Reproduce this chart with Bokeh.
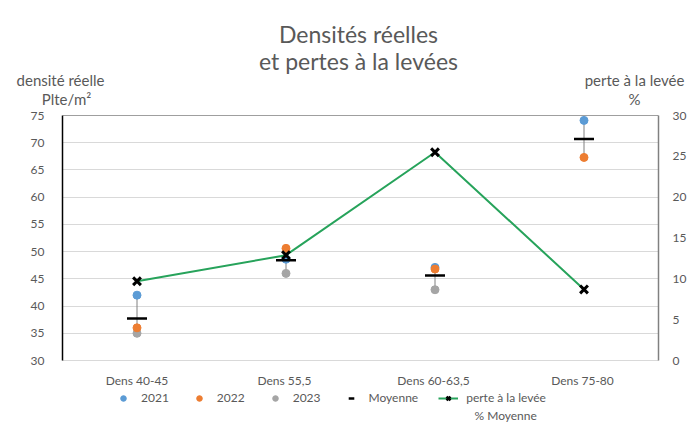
from bokeh.plotting import figure
from bokeh.layouts import column
from bokeh.models import (Range1d, LinearAxis, FactorRange, Legend, LegendItem,
                          Span, SingleIntervalTicker)
from bokeh.core.properties import value
from bokeh.embed import file_html
from bokeh.resources import INLINE

categories = ["Dens 40-45", "Dens  55,5", "Dens  60-63,5", "Dens  75-80"]
y2021 = [42.0, 48.6, 47.1, 74.1]
y2022 = [36.0, 50.6, 46.8, 67.3]
y2023 = [35.0, 46.0, 43.0, None]
moyenne = [37.7, 48.4, 45.6, 70.7]
perte = [9.7, 12.9, 25.5, 8.7]

title_lines = ["Densités réelles", "et pertes à la levées"]
left_label = ["densité réelle", "Plte/m²"]
right_label = ["perte à la levée", "%"]
legend_labels = ["2021", "2022", "2023", "Moyenne", "perte à la levée", "% Moyenne"]

FONT = "Lato"
GRAY_TXT = "#595959"
C21, C22, C23, CLINE = "#5b9bd5", "#ed7d31", "#a5a5a5", "#27a35b"
W = 695

def blank(fig):
    fig.axis.visible = False
    fig.grid.visible = False
    fig.outline_line_color = None

def no_align(fig):
    if "frame_align" in fig.properties():
        fig.frame_align = False

# ---------- header (title + axis titles) ----------
HH = 107
h = figure(width=W, height=HH, x_range=Range1d(0, W), y_range=Range1d(HH, 0),
           output_backend="svg", toolbar_location=None, min_border=0)
blank(h)
no_align(h)
h.text(x=[358, 358], y=[33, 60], text=title_lines, text_font=value(FONT),
       text_font_size="23px", text_color=GRAY_TXT, text_align="center", text_baseline="middle")
h.text(x=[60, 66, 634, 634], y=[79, 98, 79, 98], text=left_label + right_label,
       text_font=value(FONT), text_font_size="15px", text_color=GRAY_TXT,
       text_align="center", text_baseline="middle")

# ---------- main chart ----------
MH = 8 + 245 + 30
p = figure(width=W, height=MH, frame_width=596, frame_height=245,
           x_range=FactorRange(*categories), y_range=Range1d(30, 75),
           output_backend="svg", toolbar_location=None,
           min_border_left=62, min_border_right=37, min_border_top=8, min_border_bottom=30)
no_align(p)
p.extra_y_ranges = {"perte": Range1d(0, 30)}
p.outline_line_color = None

ax = p.yaxis[0]
ax.ticker = SingleIntervalTicker(interval=5)
ax.major_tick_line_color = None
ax.minor_tick_line_color = None
ax.major_tick_out = 0
ax.axis_line_color = "black"
ax.axis_line_width = 1.5
ax.major_label_text_font = FONT
ax.major_label_text_font_size = "12px"
ax.major_label_text_color = GRAY_TXT
ax.major_label_standoff = 14

rax = LinearAxis(y_range_name="perte", ticker=SingleIntervalTicker(interval=5))
rax.major_tick_line_color = None
rax.minor_tick_line_color = None
rax.major_tick_out = 0
rax.axis_line_color = "#808080"
rax.axis_line_width = 1.5
rax.major_label_text_font = FONT
rax.major_label_text_font_size = "12px"
rax.major_label_text_color = GRAY_TXT
rax.major_label_standoff = 10
p.add_layout(rax, "right")

xa = p.xaxis[0]
xa.axis_line_color = "#d9d9d9"
xa.major_tick_line_color = None
xa.minor_tick_line_color = None
xa.major_tick_out = 0
xa.major_label_text_font = FONT
xa.major_label_text_font_size = "12px"
xa.major_label_text_color = GRAY_TXT
xa.major_label_standoff = 12

p.xgrid.grid_line_color = None
p.ygrid.grid_line_color = "#d9d9d9"
p.ygrid.ticker = SingleIntervalTicker(interval=5)
p.add_layout(Span(location=75, dimension="width", line_color="#404040", line_width=1.2))

lo, hi = [], []
for vals in zip(y2021, y2022, y2023):
    v = [a for a in vals if a is not None]
    lo.append(min(v)); hi.append(max(v))
p.segment(x0=categories, y0=lo, x1=categories, y1=hi, line_color="#808080", line_width=1)

p.scatter(categories, [v if v is not None else float("nan") for v in y2023], size=8, color=C23)
p.scatter(categories, y2021, size=8, color=C21)
p.scatter(categories, y2022, size=8, color=C22)
p.scatter(categories, moyenne, marker="dash", size=20, line_color="black", line_width=2.5)
p.line(categories, perte, y_range_name="perte", line_color=CLINE, line_width=2)
p.scatter(categories, perte, y_range_name="perte", marker="x", size=11,
          line_color="black", line_width=3)

# ---------- footer (legend) ----------
FH = 433 - HH - MH
f = figure(width=W, height=FH, x_range=Range1d(0, W), y_range=Range1d(FH, 0),
           output_backend="svg", toolbar_location=None, min_border=0)
blank(f)
no_align(f)
off = [-100]  # legend proxies, kept off-canvas
g21 = f.scatter(off, off, size=7, color=C21)
g22 = f.scatter(off, off, size=7, color=C22)
g23 = f.scatter(off, off, size=7, color=C23)
gm = f.scatter(off, off, marker="dash", size=9, line_color="black", line_width=2.5)
gl = f.line([-100, -90], off * 2, line_color=CLINE, line_width=2)
gx = f.scatter(off, off, marker="x", size=13, line_color="black", line_width=2.5)
legend = Legend(items=[
    LegendItem(label=legend_labels[0], renderers=[g21]),
    LegendItem(label=legend_labels[1], renderers=[g22]),
    LegendItem(label=legend_labels[2], renderers=[g23]),
    LegendItem(label=legend_labels[3], renderers=[gm]),
    LegendItem(label=legend_labels[4], renderers=[gl, gx]),
], orientation="horizontal", location=(113, FH - 15), padding=0, margin=0, spacing=20,
   glyph_width=20, glyph_height=14, label_standoff=8, label_height=14, label_width=10,
   label_text_font=FONT, label_text_font_size="12px", label_text_color=GRAY_TXT,
   border_line_color=None, background_fill_alpha=0)
f.add_layout(legend, "center")
f.text(x=[474], y=[25], text=[legend_labels[5]], text_font=value(FONT),
       text_font_size="12px", text_color=GRAY_TXT, text_align="left", text_baseline="middle")

layout = column(h, p, f, spacing=0)
open("out.html", "w").write(file_html(layout, INLINE))
